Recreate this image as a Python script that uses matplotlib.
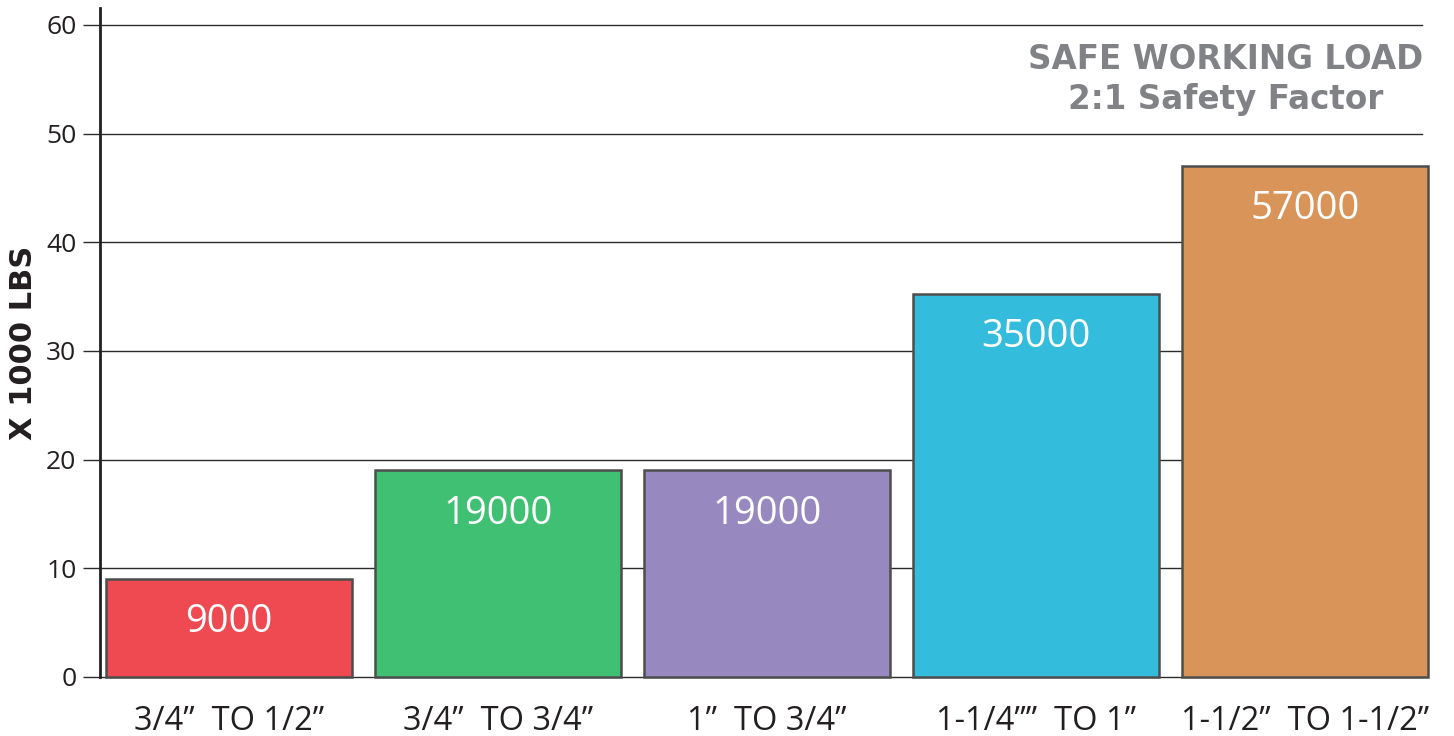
import matplotlib.pyplot as plt
import numpy as np

# chain size pairs and working load (x 1000 lbs, as drawn)
categories = ['3/4\u201d  TO 1/2\u201d', '3/4\u201d  TO 3/4\u201d', '1\u201d  TO 3/4\u201d',
              '1-1/4\u201d\u201d  TO 1\u201d', '1-1/2\u201d  TO 1-1/2\u201d']
heights = [9, 19, 19, 35.2, 47]
bar_labels = ['9000', '19000', '19000', '35000', '57000']
colors = ['#EF4A52', '#40C072', '#9788C0', '#33BCDC', '#D99459']
yticks = [0, 10, 20, 30, 40, 50, 60]

plt.rcParams['font.family'] = ['Open Sans', 'DejaVu Sans']

fig = plt.figure(figsize=(14.54, 7.36), dpi=100)
ax = fig.add_axes([100 / 1454, 59 / 736, 1322 / 1454, 669 / 736])

x = np.arange(len(categories))
bars = ax.bar(x, heights, width=0.915, color=colors, edgecolor='#4D4D4D',
              linewidth=1.8, zorder=3, clip_on=False)

for b, lab in zip(bars, bar_labels):
    ax.annotate(lab, (b.get_x() + b.get_width() / 2, b.get_height()),
                xytext=(0, -31), textcoords='offset points',
                ha='center', va='center', color='white', fontsize=27.5, zorder=4)

ax.set_xlim(-0.48, 4.435)
ax.set_ylim(0, 61.55)
ax.set_yticks(yticks)
ax.yaxis.grid(True, color='#2b2b2b', linewidth=1.0, zorder=0)
for gl in ax.get_ygridlines():
    gl.set_clip_on(False)
ax.tick_params(axis='y', length=12, width=1.0, color='#2b2b2b',
               labelsize=19, pad=5, labelcolor='#231F20')
ax.set_xticks(x)
ax.set_xticklabels(categories, fontsize=23.5, color='#231F20')
ax.tick_params(axis='x', length=0, pad=20)

for s in ['top', 'right', 'bottom']:
    ax.spines[s].set_visible(False)
ax.spines['left'].set_linewidth(2)
ax.spines['left'].set_color('#231F20')

ax.set_ylabel('X 1000 LBS', fontsize=22, fontweight='bold',
              family='DejaVu Sans', color='#231F20')
ax.yaxis.set_label_coords(-62 / 1322, 0.5)

ax.text(1226 / 1454, 0.942, 'SAFE WORKING LOAD\n2:1 Safety Factor',
        transform=fig.transFigure, ha='center', va='top', fontsize=23.5,
        fontweight='heavy', family='DejaVu Sans', color='#808285',
        linespacing=1.3)

fig.savefig('out.png', dpi=100)
